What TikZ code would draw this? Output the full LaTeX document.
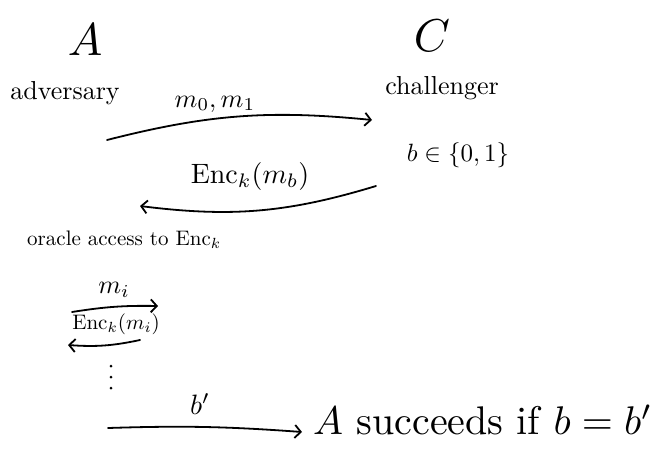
\documentclass[tikz,border=0pt]{standalone}
\usepackage{graphicx}
\usetikzlibrary{arrows.meta}
\newcommand\mysc[2]{\scalebox{#1}{#2}}
\begin{document}
\begin{tikzpicture}[x=1pt,y=-1pt,
  hand/.style={line width=1.8pt, line cap=round, -{Straight Barb[length=6pt,width=13pt,line width=1.8pt]}},
  txt/.style={inner sep=1pt},
  dot/.style={circle, fill, inner sep=0pt, minimum size=3pt}]
\useasboundingbox (0,0) rectangle (668,469);
\node[txt] (A) at (85,40) {\mysc{4.6}{$A$}};
\node[txt] (adv) at (65,93) {\mysc{2.6}{adversary}};
\node[txt] (C) at (432,36) {\mysc{4.6}{$C$}};
\node[txt] (chal) at (442,88) {\mysc{2.6}{challenger}};
\node[txt] (b) at (458,155) {\mysc{2.5}{$b\in\{0,1\}$}};

\coordinate (a1s) at (107,140);
\coordinate (a1e) at (372,120);
\draw[hand] (a1s) to[bend left=10] (a1e);
\node[txt] (m01) at (215,104) {\mysc{2.6}{$m_0, m_1$}};

\coordinate (a2s) at (376,186);
\coordinate (a2e) at (140,206);
\draw[hand] (a2s) to[bend left=12] (a2e);
\node[txt] (encmb) at (250,176) {\mysc{2.8}{$\mathrm{Enc}_k(m_b)$}};

\node[txt, anchor=west] (orc) at (26,240) {\mysc{2.1}{oracle access to $\mathrm{Enc}_k$}};

\coordinate (a3s) at (72,312);
\coordinate (a3e) at (158,306);
\draw[hand] (a3s) to[bend left=5] (a3e);
\node[txt] (mi) at (114,290) {\mysc{2.6}{$m_i$}};

\node[txt] (encmi) at (116,324) {\mysc{2.1}{$\mathrm{Enc}_k(m_i)$}};
\coordinate (a4s) at (140,340);
\coordinate (a4e) at (68,345);
\draw[hand] (a4s) to[bend left=8] (a4e);

\node[dot] (d1) at (111,366) {};
\node[dot] (d2) at (111,377) {};
\node[dot] (d3) at (111,388) {};

\coordinate (a5s) at (108,428);
\coordinate (a5e) at (302,432);
\draw[hand] (a5s) to[bend left=3] (a5e);
\node[txt] (bp) at (200,404) {\mysc{2.8}{$b'$}};

\node[txt, anchor=west] (succ) at (312,420) {\mysc{4.0}{$A$ succeeds if $b=b'$}};
\end{tikzpicture}
\end{document}
